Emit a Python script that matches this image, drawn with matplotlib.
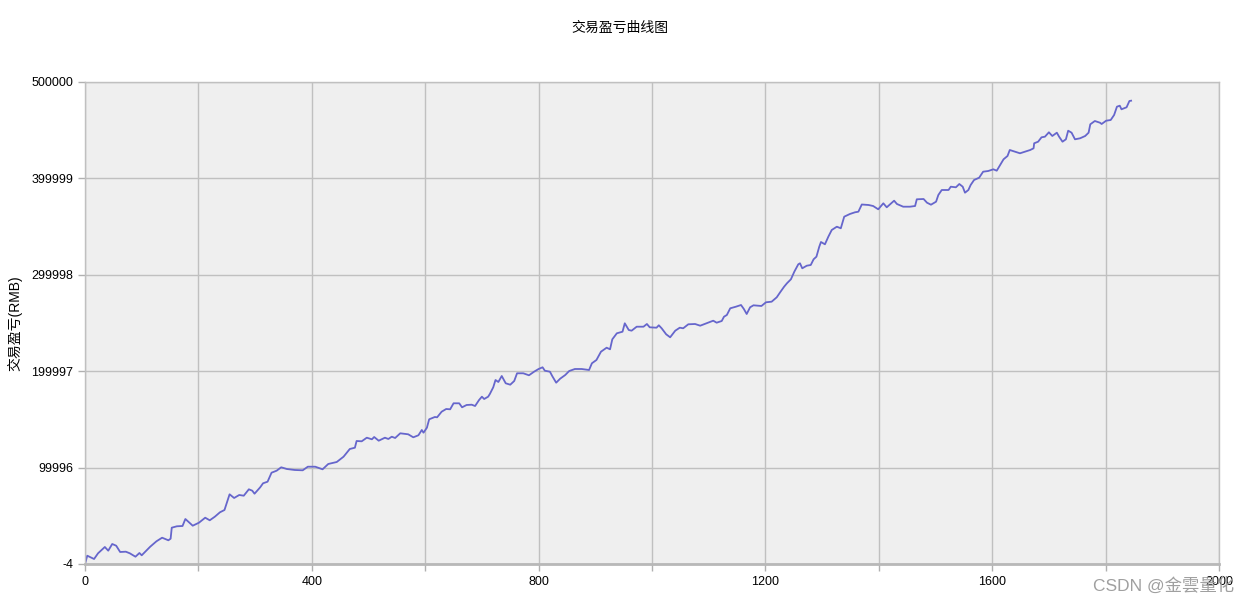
import numpy as np
import matplotlib.pyplot as plt

plt.rcParams['font.family'] = ['Liberation Sans', 'Noto Sans CJK SC', 'DejaVu Sans']

# trade index and cumulative P&L (RMB)
trade_no = [0, 4, 16, 23, 35, 41, 48, 55, 62, 72, 79, 89, 96, 100, 115, 126, 136, 147, 151, 153,
            162, 172, 177, 190, 201, 212, 220, 229, 238, 246, 255, 263, 272, 280, 289, 295, 299, 309, 314, 322,
            329, 338, 346, 356, 370, 384, 393, 406, 419, 429, 444, 456, 467, 476, 479, 488, 497, 506, 510, 518,
            529, 535, 541, 547, 556, 570, 579, 588, 594, 597, 603, 607, 617, 621, 629, 637, 644, 650, 660, 665,
            673, 682, 688, 695, 700, 704, 711, 714, 720, 724, 729, 735, 742, 750, 757, 762, 773, 783, 792, 800,
            807, 811, 820, 824, 831, 838, 847, 854, 864, 876, 889, 894, 902, 910, 920, 926, 930, 938, 948, 952,
            959, 964, 973, 985, 991, 996, 1008, 1012, 1017, 1025, 1032, 1041, 1049, 1055, 1064, 1076, 1085, 1099, 1108, 1114,
            1123, 1127, 1132, 1138, 1148, 1157, 1162, 1167, 1173, 1179, 1193, 1201, 1211, 1220, 1226, 1233, 1238, 1245, 1251, 1258,
            1261, 1265, 1273, 1280, 1285, 1290, 1295, 1298, 1305, 1311, 1317, 1326, 1333, 1339, 1349, 1358, 1364, 1370, 1382, 1390,
            1399, 1408, 1414, 1427, 1432, 1443, 1455, 1464, 1467, 1479, 1485, 1492, 1501, 1505, 1511, 1523, 1527, 1536, 1542, 1548,
            1552, 1558, 1562, 1568, 1577, 1584, 1593, 1602, 1608, 1614, 1620, 1627, 1631, 1640, 1649, 1658, 1667, 1673, 1674, 1681,
            1687, 1693, 1700, 1706, 1714, 1718, 1724, 1730, 1734, 1740, 1746, 1755, 1764, 1770, 1773, 1781, 1790, 1793, 1801, 1809,
            1815, 1820, 1825, 1828, 1837, 1842, 1845]
pnl = [0, 8610, 5190, 11100, 17640, 13800, 20750, 18980, 12450, 12760, 11100, 7570, 11410, 9020, 17950, 23550, 27280, 24590, 26240, 37660,
       39110, 39420, 46680, 39730, 42840, 48030, 45330, 49070, 53630, 56020, 72300, 68470, 71580, 70850, 77490, 76040, 72930, 79570, 83710, 85370,
       94710, 96790, 100310, 98550, 97510, 97200, 100930, 100930, 98240, 103740, 105810, 111310, 119300, 120640, 127590, 127280, 131020, 129360, 131740, 127900,
       131020, 129670, 132050, 130710, 135580, 134550, 131430, 133510, 139000, 136200, 141390, 150100, 152490, 152180, 157990, 160790, 160480, 166700, 166700, 162550,
       164940, 165250, 163900, 170120, 173550, 171160, 173550, 176350, 183300, 190870, 188800, 195020, 187450, 186000, 189840, 197820, 197820, 195750, 199480, 202280,
       204050, 200520, 199480, 195020, 188070, 192220, 196060, 200210, 202280, 202280, 201250, 208200, 211620, 220230, 224380, 222720, 233090, 239320, 240980, 249690,
       242740, 242020, 246160, 246160, 248960, 245540, 245130, 247620, 244500, 238280, 235170, 242020, 245130, 244500, 248650, 248960, 247200, 250320, 252390, 250320,
       252080, 256540, 258300, 265250, 266910, 268670, 264520, 259340, 266290, 268360, 267640, 271480, 272100, 276660, 281850, 287660, 291190, 295340, 303220, 310890,
       311930, 306740, 309440, 310170, 316080, 318780, 329150, 334030, 331640, 339530, 346480, 349900, 348240, 360280, 363070, 364840, 365460, 372930, 372410, 371370,
       367950, 374170, 370020, 376870, 373450, 370650, 370650, 371370, 378320, 378630, 374800, 372720, 375830, 382780, 387970, 387970, 391390, 390770, 394190, 391390,
       385170, 387970, 393160, 398340, 400730, 406960, 407670, 409440, 408000, 413900, 419810, 423240, 429460, 427700, 426040, 427700, 429460, 431220, 436410, 438080,
       442630, 443260, 447820, 443990, 447410, 443260, 438080, 440560, 449490, 447410, 440560, 441600, 443990, 447410, 456120, 459540, 457790, 456430, 459860, 460580,
       465770, 474390, 475420, 471690, 473760, 480290, 480600]

y_min, y_max = -4, 500000
y_ticks = np.linspace(y_min, y_max, 6)
y_labels = ['-4', '99996', '199997', '299998', '399999', '500000']
x_ticks = np.arange(0, 2001, 200)
x_labels = ['0', '', '400', '', '800', '', '1200', '', '1600', '', '2000']

fig = plt.figure(figsize=(12.4, 6.03), dpi=100)
ax = fig.add_axes([85 / 1240, 1 - 564 / 603, 1134 / 1240, 482 / 603])
ax.set_facecolor('#efefef')

ax.plot(trade_no, pnl, color='#6666cc', linewidth=1.3)

ax.set_xlim(0, 2000)
ax.set_ylim(y_min, y_max)
ax.set_xticks(x_ticks)
ax.set_xticklabels(x_labels)
ax.set_yticks(y_ticks)
ax.set_yticklabels(y_labels)
ax.grid(True, color='#c0c0c0', linewidth=1)
ax.set_axisbelow(True)
ax.tick_params(colors='#b0b0b0', labelcolor='black', labelsize=9, length=5, width=1)
for side in ['top', 'right', 'left']:
    ax.spines[side].set_color('#c0c0c0')
    ax.spines[side].set_linewidth(1)
ax.spines['bottom'].set_color('#b8b8b8')
ax.spines['bottom'].set_linewidth(2)

ax.set_ylabel('交易盈亏(RMB)', fontsize=10, labelpad=6)
fig.suptitle('交易盈亏曲线图', y=1 - 28 / 603, va='center', fontsize=10)
# watermark sits over the last x tick label, as in the original
fig.text(1234 / 1240, 1 - 585 / 603, 'CSDN @金雲量化', ha='right', va='center',
         fontsize=12.5, color='#a0a0a0')

fig.savefig('out.png', dpi=100)
